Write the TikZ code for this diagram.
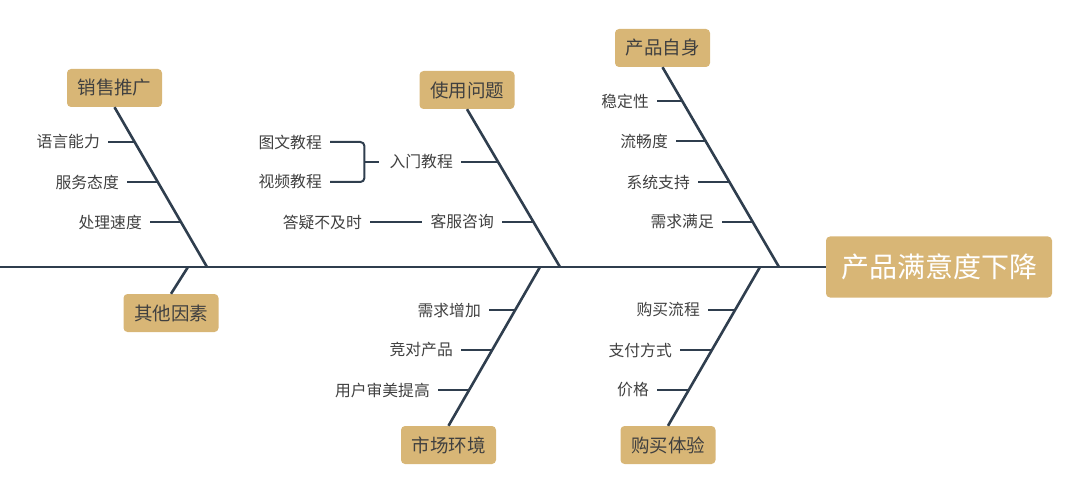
\documentclass[tikz,border=0pt]{standalone}
\usepackage{fontspec}
\setmainfont{Noto Sans CJK SC}
\usetikzlibrary{calc}
\definecolor{boxfill}{RGB}{216,182,118}
\definecolor{linec}{RGB}{47,62,78}
\definecolor{txt}{RGB}{64,64,64}
\begin{document}
\begin{tikzpicture}[x=1pt,y=-1pt,
  cat/.style={fill=boxfill, rounded corners=4pt, minimum width=95pt, minimum height=38pt,
    font=\fontsize{18.5}{18.5}\selectfont, text=txt, inner sep=0pt},
  lab/.style={font=\fontsize{15.8}{15.8}\selectfont, text=txt, inner sep=0pt, anchor=east},
  bone/.style={draw=linec, line width=2.6pt},
  sub/.style={draw=linec, line width=2pt, shorten <=8pt}]
\useasboundingbox (0,0) rectangle (1080,492);

% head and spine
\node[cat, minimum width=226pt, minimum height=61pt, font=\fontsize{28}{28}\selectfont, text=white] (head) at (939,267) {产品满意度下降};
\coordinate (tail) at (0,267);
\draw[bone] (tail) -- (head.west);

% categories
\node[cat] (c1) at (114.5,88) {销售推广};
\node[cat] (c2) at (171,313) {其他因素};
\node[cat] (c3) at (467,90) {使用问题};
\node[cat] (c4) at (662.5,48) {产品自身};
\node[cat] (c5) at (448.5,445) {市场环境};
\node[cat] (c6) at (668,445) {购买体验};

% spine points
\coordinate (s1) at (207,267);
\coordinate (s2) at (188,267);
\coordinate (s3) at (560,267);
\coordinate (s4) at (779,267);
\coordinate (s5) at (540,267);
\coordinate (s6) at (760,267);

\draw[bone] (c1.south) -- (s1);
\draw[bone] (c2.north) -- (s2);
\draw[bone] (c3.south) -- (s3);
\draw[bone] (c4.south) -- (s4);
\draw[bone] (c5.north) -- (s5);
\draw[bone] (c6.north) -- (s6);

% branch 1: 销售推广
\node[lab] (a1) at (100,142) {语言能力};
\node[lab] (a2) at (119,182) {服务态度};
\node[lab] (a3) at (142,222) {处理速度};
\coordinate (ba1) at (134.7,142);
\coordinate (ba2) at (157.9,182);
\coordinate (ba3) at (181.0,222);
\draw[sub] (a1.east) -- (ba1);
\draw[sub] (a2.east) -- (ba2);
\draw[sub] (a3.east) -- (ba3);

% branch 3: 使用问题
\node[lab] (r1) at (453,162) {入门教程};
\node[lab] (r2) at (494,222) {客服咨询};
\node[lab] (t1) at (322,142) {图文教程};
\node[lab] (t2) at (322,182) {视频教程};
\node[lab] (q1) at (362,222) {答疑不及时};
\coordinate (br1) at (498.2,162);
\coordinate (br2) at (533.5,222);
\draw[sub] (r1.east) -- (br1);
\draw[sub] (r2.east) -- (br2);
\draw[sub, shorten >=8pt] (q1.east) -- (r2.west);
\draw[draw=linec, line width=2pt, rounded corners=4pt] ([xshift=8pt]t1.east) -| ([xshift=-25pt]r1.west) |- ([xshift=8pt]t2.east);
\draw[draw=linec, line width=2pt] ([xshift=-25pt]r1.west) -- ([xshift=-10pt]r1.west);

% branch 4: 产品自身
\node[lab] (p1) at (649,101) {稳定性};
\node[lab] (p2) at (668,141) {流畅度};
\node[lab] (p3) at (690,182) {系统支持};
\node[lab] (p4) at (714,222) {需求满足};
\coordinate (bp1) at (682.3,101);
\coordinate (bp2) at (705.6,141);
\coordinate (bp3) at (729.5,182);
\coordinate (bp4) at (752.8,222);
\draw[sub] (p1.east) -- (bp1);
\draw[sub] (p2.east) -- (bp2);
\draw[sub] (p3.east) -- (bp3);
\draw[sub] (p4.east) -- (bp4);

% branch 5: 市场环境
\node[lab] (m1) at (481,310) {需求增加};
\node[lab] (m2) at (453,350) {竞对产品};
\node[lab] (m3) at (430,390) {用户审美提高};
\coordinate (bm1) at (515.3,310);
\coordinate (bm2) at (492.2,350);
\coordinate (bm3) at (469.2,390);
\draw[sub] (m1.east) -- (bm1);
\draw[sub] (m2.east) -- (bm2);
\draw[sub] (m3.east) -- (bm3);

% branch 6: 购买体验
\node[lab] (g1) at (700,310) {购买流程};
\node[lab] (g2) at (672,350) {支付方式};
\node[lab] (g3) at (649,390) {价格};
\coordinate (bg1) at (735.1,310);
\coordinate (bg2) at (712.0,350);
\coordinate (bg3) at (688.8,390);
\draw[sub] (g1.east) -- (bg1);
\draw[sub] (g2.east) -- (bg2);
\draw[sub] (g3.east) -- (bg3);
\end{tikzpicture}
\end{document}
